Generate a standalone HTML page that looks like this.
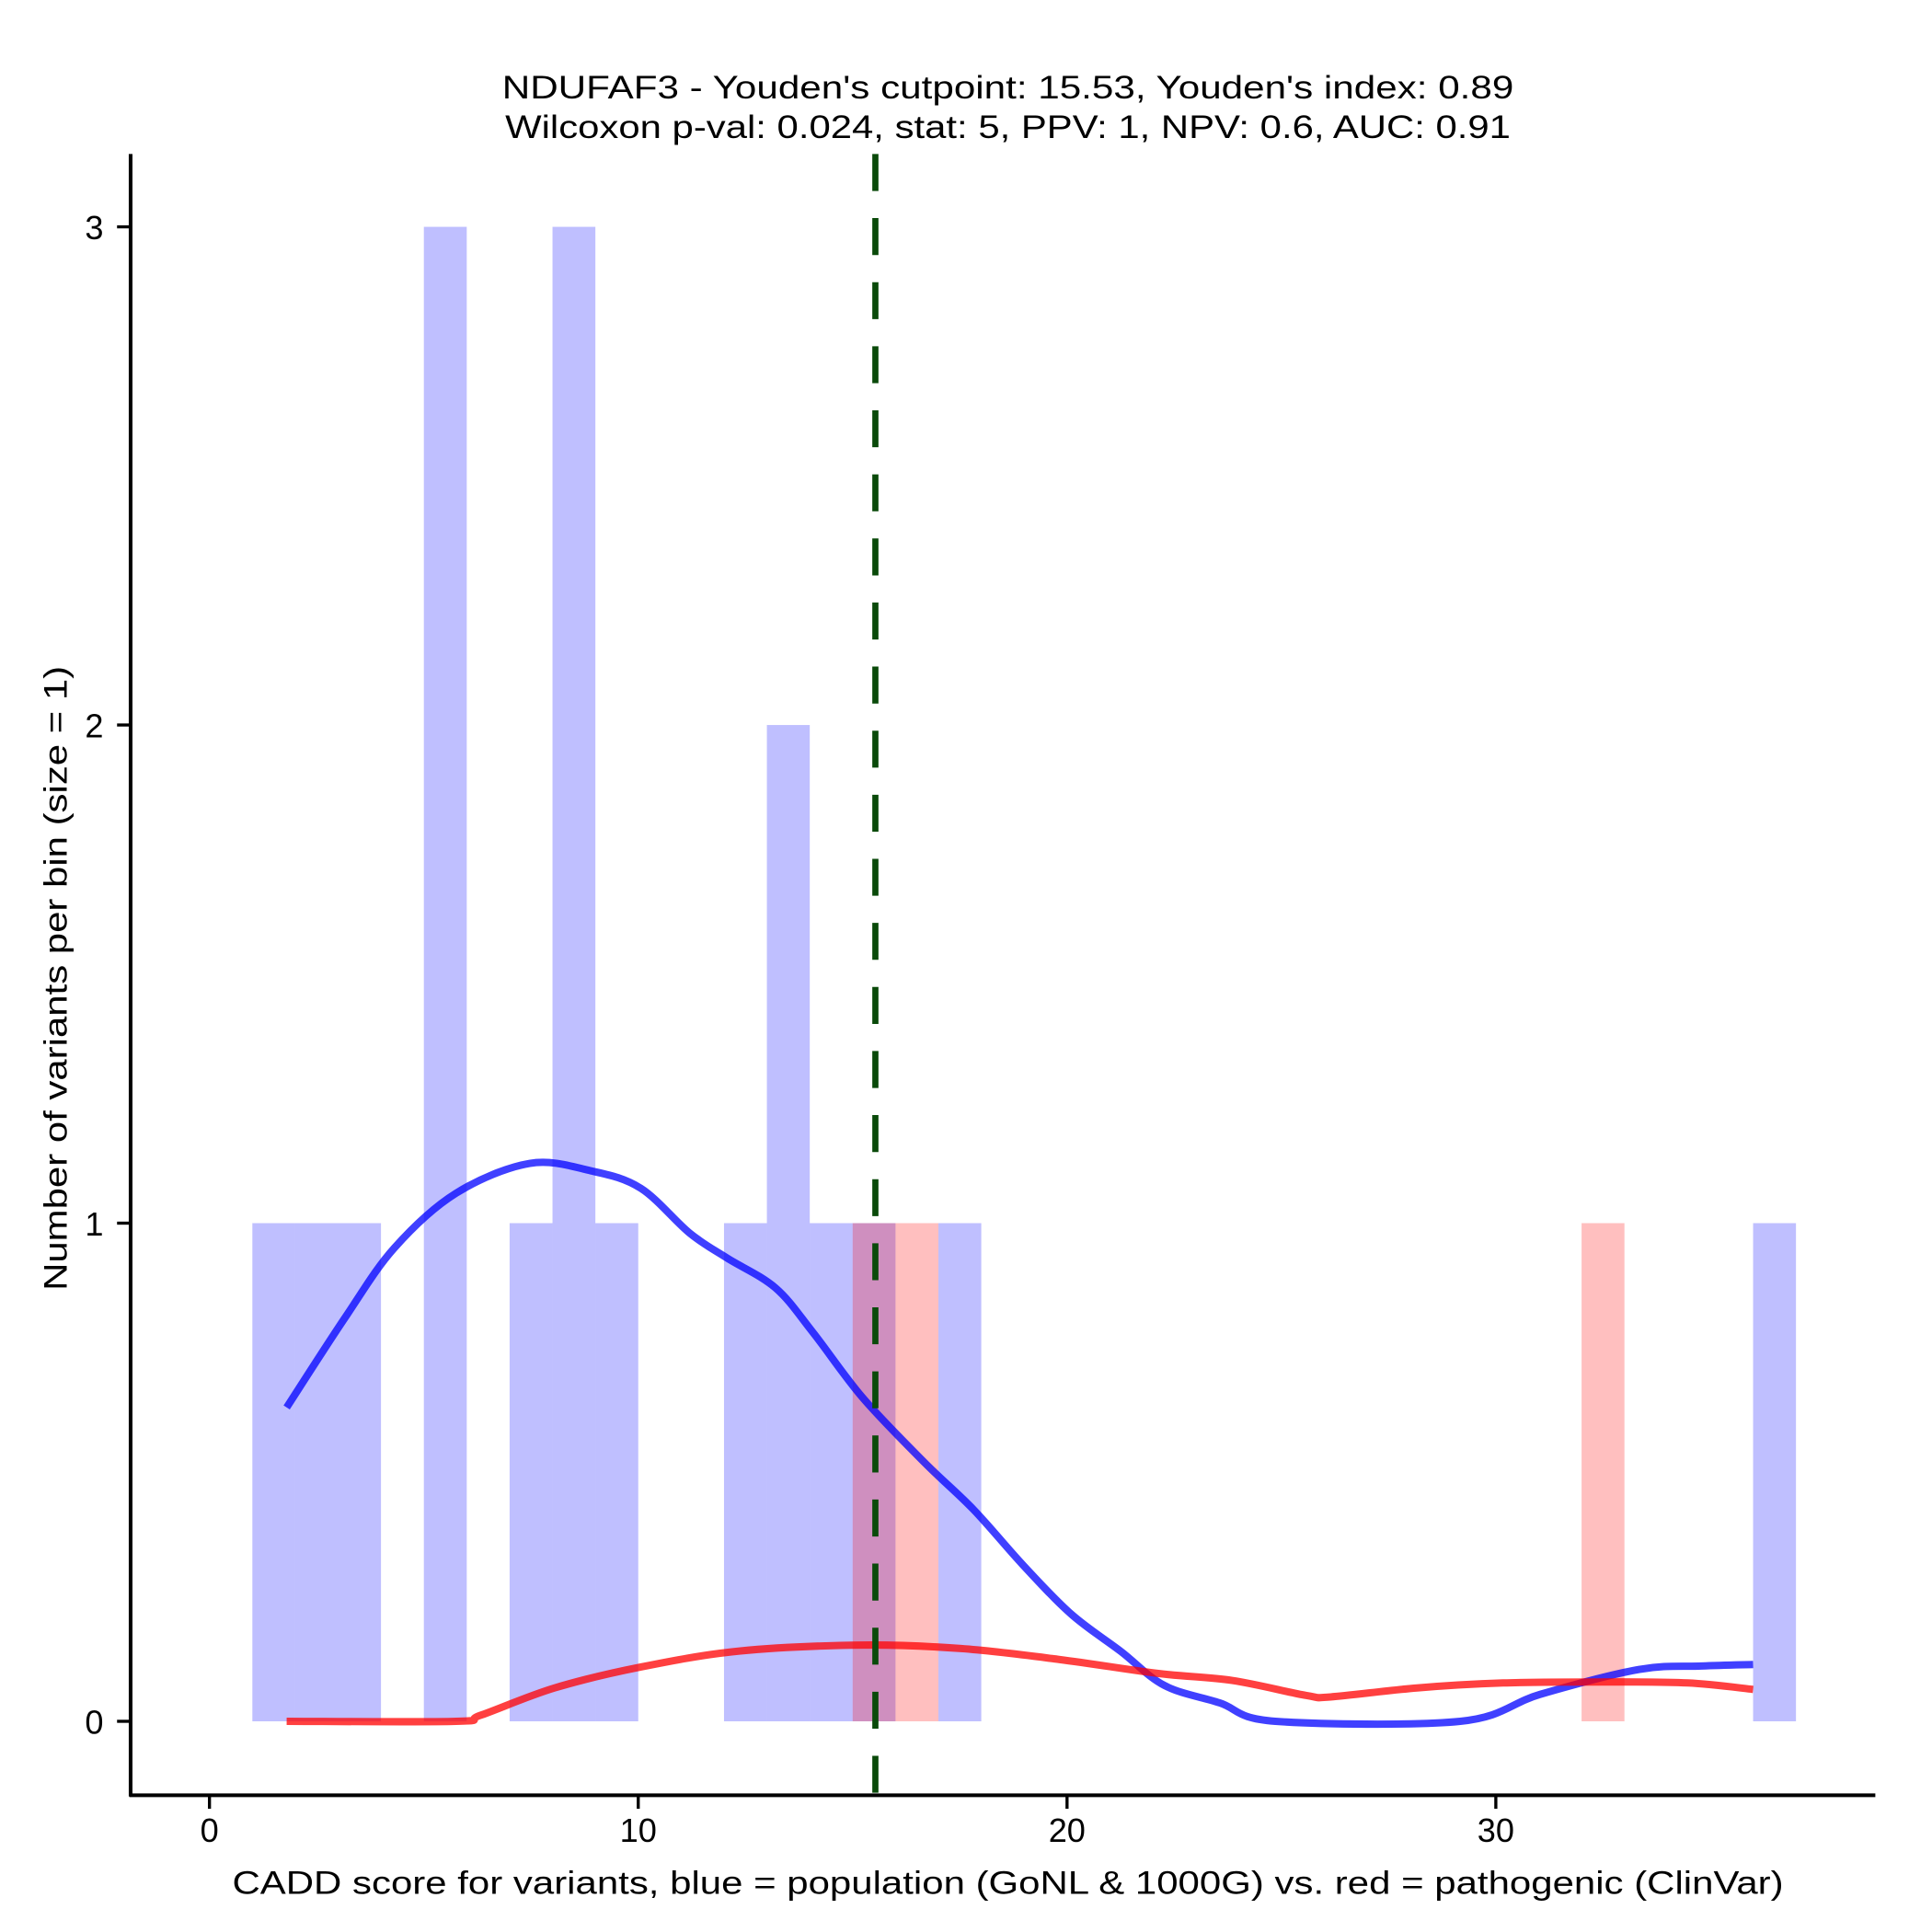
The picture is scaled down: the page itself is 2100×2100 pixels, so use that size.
<!DOCTYPE html>
<html><head><meta charset="utf-8"><style>
html,body{margin:0;padding:0;background:#fff;}
svg{display:block;}
text{font-family:"Liberation Sans",Arial,sans-serif;fill:#000;}
</style></head><body>
<svg id="chart" width="2100" height="2100" viewBox="0 0 1568 1568" xmlns="http://www.w3.org/2000/svg">
<rect width="1568" height="1568" fill="#fff"/>
<g id="bars"></g>
<g id="curves"></g>
<g id="axes"></g>
<text x="818" y="80" font-size="26" text-anchor="middle" textLength="821" lengthAdjust="spacingAndGlyphs">NDUFAF3 - Youden's cutpoint: 15.53, Youden's index: 0.89</text>
<text x="818" y="112" font-size="26" text-anchor="middle" textLength="816" lengthAdjust="spacingAndGlyphs">Wilcoxon p-val: 0.024, stat: 5, PPV: 1, NPV: 0.6, AUC: 0.91</text>
<text x="818" y="1537" font-size="26" text-anchor="middle" textLength="1259" lengthAdjust="spacingAndGlyphs">CADD score for variants, blue = population (GoNL &amp; 1000G) vs. red = pathogenic (ClinVar)</text>
<text transform="translate(54,794) rotate(-90)" font-size="26" text-anchor="middle" textLength="507" lengthAdjust="spacingAndGlyphs">Number of variants per bin (size = 1)</text>
</svg>
<script>
const blueBins = [1,2,3,5,7,8,9,12,13,14,15,17,36];
const blueCounts = [1,1,1,3,1,3,1,1,2,1,1,1,1];
const redBins = [15,16,32];
const redCounts = [1,1,1];
const blueDensX = [1.8,3.16,4.31,5.75,7.47,8.9,10.06,11.2,12.07,13.2,14.08,15.23,16.67,17.82,18.97,20.1,21.26,22.27,23.56,24.86,29.17,31.03,33.33,34.8,36];
const blueDensY = [0.63,0.81,0.95,1.06,1.12,1.105,1.07,0.98,0.93,0.87,0.78,0.65,0.52,0.425,0.314,0.215,0.14,0.072,0.037,0,0,0.054,0.104,0.111,0.114];
const redDensX = [1.8,5.75,6.32,8.05,10.06,12.36,15.23,17.53,19.83,22.13,23.85,25.57,26.15,28.16,30.17,32.47,34.48,36];
const redDensY = [0,0,0.012,0.067,0.109,0.141,0.153,0.146,0.124,0.096,0.082,0.052,0.049,0.067,0.077,0.079,0.077,0.064];
const xTicks = [0,10,20,30];
const yTicks = [0,1,2,3];
const cutpoint = 15.53;

const NS = "http://www.w3.org/2000/svg";
const sx = v => 170 + v * 34.8;
const sy = v => 1397 - v * 404.3;
function mk(tag, attrs, parent) {
  const e = document.createElementNS(NS, tag);
  for (const k in attrs) e.setAttribute(k, attrs[k]);
  parent.appendChild(e);
  return e;
}
const bars = document.getElementById('bars');
blueBins.forEach((b, i) => {
  const r = mk('rect', {x: sx(b), y: sy(blueCounts[i]), width: sx(b+1)-sx(b), height: sy(0)-sy(blueCounts[i]), fill: 'rgba(0,0,255,0.25)'}, bars);
  
  
});
redBins.forEach((b, i) => {
  const r = mk('rect', {x: sx(b), y: sy(redCounts[i]), width: sx(b+1)-sx(b), height: sy(0)-sy(redCounts[i]), fill: 'rgba(255,0,0,0.25)'}, bars);
  
  
});
function smoothPath(xs, ys) {
  const p = xs.map((x, i) => [sx(x), sy(ys[i])]);
  let d = `M${p[0][0]},${p[0][1]}`;
  for (let i = 0; i < p.length - 1; i++) {
    const p0 = p[Math.max(0, i-1)], p1 = p[i], p2 = p[i+1], p3 = p[Math.min(p.length-1, i+2)];
    const c1 = [p1[0] + (p2[0]-p0[0])/6, p1[1] + (p2[1]-p0[1])/6];
    const c2 = [p2[0] - (p3[0]-p1[0])/6, p2[1] - (p3[1]-p1[1])/6];
    d += ` C${c1[0]},${c1[1]} ${c2[0]},${c2[1]} ${p2[0]},${p2[1]}`;
  }
  return d;
}
const curves = document.getElementById('curves');
const bl = mk('path', {d: smoothPath(blueDensX, blueDensY), fill: 'none', stroke: 'rgba(0,0,255,0.75)', 'stroke-width': 6, 'stroke-linejoin': 'round'}, curves);


const rl = mk('path', {d: smoothPath(redDensX, redDensY), fill: 'none', stroke: 'rgba(255,0,0,0.75)', 'stroke-width': 6, 'stroke-linejoin': 'round'}, curves);


const cl = mk('line', {x1: sx(cutpoint), x2: sx(cutpoint), y1: 125, y2: 1460, stroke: '#0a4a0a', 'stroke-width': 5, 'stroke-dasharray': '30,22'}, curves);



const axes = document.getElementById('axes');
const ya = mk('line', {x1: 106, x2: 106, y1: 125, y2: 1458, stroke: '#000', 'stroke-width': 3}, axes);


const xa = mk('line', {x1: 105, x2: 1522, y1: 1457, y2: 1457, stroke: '#000', 'stroke-width': 3}, axes);


xTicks.forEach(t => {
  const tk = mk('line', {x1: sx(t), x2: sx(t), y1: 1457, y2: 1468, stroke: '#000', 'stroke-width': 2.5}, axes);
  
  
  const lb = mk('text', {x: sx(t), y: 1495, 'font-size': 27, 'text-anchor': 'middle'}, axes);
  lb.textContent = t;
  
  
});
yTicks.forEach(t => {
  const tk = mk('line', {x1: 95, x2: 106, y1: sy(t), y2: sy(t), stroke: '#000', 'stroke-width': 2.5}, axes);
  
  
  const lb = mk('text', {x: 84, y: sy(t) + 10, 'font-size': 27, 'text-anchor': 'end'}, axes);
  lb.textContent = t;
  
  
});
</script>
</body></html>
